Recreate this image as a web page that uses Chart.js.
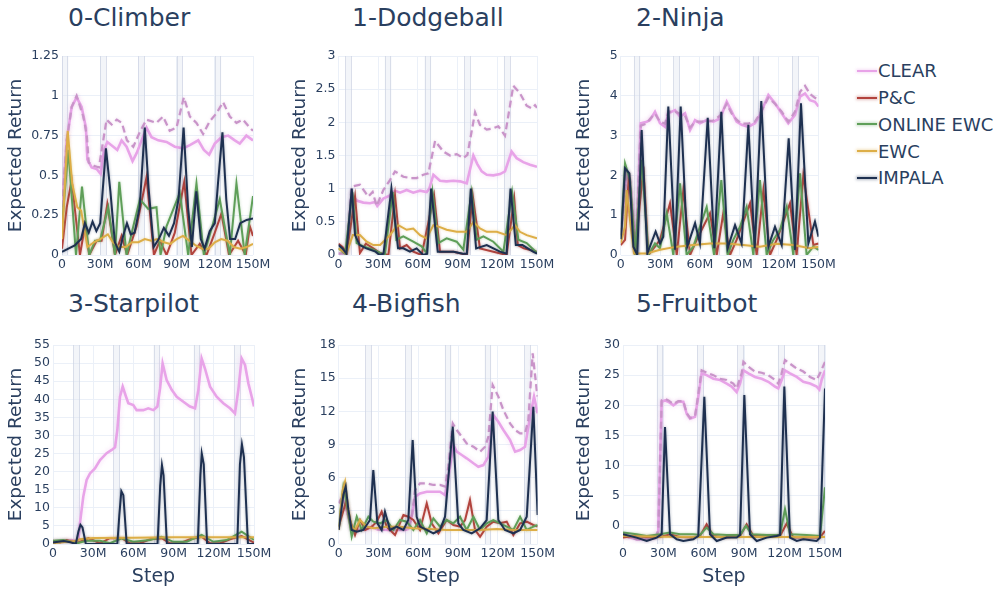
<!DOCTYPE html>
<html>
<head>
<meta charset="utf-8">
<script src="https://cdn.jsdelivr.net/npm/chart.js@4.4.1/dist/chart.umd.min.js"></script>
<style>
  html, body { margin: 0; padding: 0; background: #fff; overflow: hidden; width: 1004px; height: 591px; }
  canvas { position: absolute; }
  .ttl { position: absolute; font-family: 'DejaVu Sans', sans-serif; font-size: 25px; line-height: 25px; color: #2a3f5f; white-space: nowrap; }
  #legend { position: absolute; left: 857px; top: 57.6px; font-family: 'DejaVu Sans', sans-serif; font-size: 18px; color: #2a3f5f; }
  .item { height: 26.75px; display: flex; align-items: center; white-space: nowrap; }
  .sw { width: 20px; height: 2px; margin-right: 1px; }
</style>
</head>
<body>
<div id="legend"></div>
<script>
// ---- axes ----
const stepTicks = [0, 30, 60, 90, 120, 150];          // millions of steps
const stepLabels = ['0', '30M', '60M', '90M', '120M', '150M'];
const cycleStarts = [0, 30, 60, 90, 120];               // each cycle visits all six tasks
const taskSpan = 5;                                      // 5M steps per task visit
const seriesNames = ['CLEAR', 'P&C', 'ONLINE EWC', 'EWC', 'IMPALA'];

const climberTicks = [0, 0.25, 0.5, 0.75, 1, 1.25];
const dodgeballTicks = [0, 0.5, 1, 1.5, 2, 2.5, 3];
const ninjaTicks = [0, 1, 2, 3, 4, 5];
const starpilotTicks = [0, 5, 10, 15, 20, 25, 30, 35, 40, 45, 50, 55];
const bigfishTicks = [0, 3, 6, 9, 12, 15, 18];
const fruitbotTicks = [0, 5, 10, 15, 20, 25, 30];

// ---- 0-Climber: [step (M), expected return] ----
const climberClear = [[0,0.3],[1,0.41],[3.7,0.72],[7.6,0.93],[11.5,0.99],[15.4,0.93],[18.8,0.8],[19.9,0.6],[23.3,0.55],[27.2,0.54],[30.3,0.51],[33,0.66],[35.6,0.71],[40.3,0.68],[43.4,0.66],[46.8,0.72],[50.7,0.68],[55.4,0.59],[58.6,0.64],[62.5,0.72],[66.4,0.8],[70.3,0.74],[75.6,0.72],[82.1,0.71],[88.6,0.68],[95.2,0.67],[100.4,0.69],[107,0.72],[111.4,0.66],[115.6,0.63],[120,0.7],[125.2,0.74],[130.5,0.75],[135.7,0.72],[139.6,0.7],[144.8,0.75],[150,0.72]];
const climberClearTrain = [[0,0.3],[1,0.41],[3.7,0.72],[7.6,0.93],[11.5,1.0],[16.7,0.87],[19.5,0.75],[21,0.58],[25,0.56],[29,0.55],[31,0.65],[35,0.85],[39,0.82],[43,0.85],[47,0.83],[51,0.72],[56,0.68],[61.5,0.78],[66.4,0.85],[74.2,0.83],[79.4,0.87],[84.6,0.78],[89.9,0.8],[95.7,0.99],[100.4,0.87],[105.6,0.83],[110.8,0.76],[116,0.84],[121.3,0.89],[126.5,0.96],[131.8,0.87],[137,0.83],[142.2,0.85],[147.4,0.8],[150,0.78]];
const climberPC = [[0,0.04],[3.7,0.3],[7.6,0.47],[14.1,0],[18,0.18],[21.4,0],[27.2,0.09],[31.1,0.09],[35.6,0.32],[41.6,0],[46.8,0.12],[51.2,0],[58.6,0.18],[66.4,0.49],[72.2,0],[76.9,0.09],[82.1,0],[88.6,0.14],[96,0.46],[101.7,0],[108.2,0.07],[113.5,0],[120,0.14],[125.2,0.26],[131.2,0],[138.3,0.09],[144.3,0],[147.5,0.18],[150,0.12]];
const climberOnlineEwc = [[0,0.18],[5,0.66],[11,0],[15.7,0.43],[21.4,0],[25.9,0.09],[29.8,0.09],[36.3,0.3],[41.6,0],[45,0.46],[50.7,0],[56,0.18],[61.2,0.35],[67.7,0.29],[74.2,0.3],[77.4,0],[82.1,0.18],[92.5,0.39],[99.1,0],[105.6,0.45],[111.4,0],[118.7,0.2],[123.9,0.35],[131.8,0],[137,0.45],[143.5,0],[150,0.37]];
const climberEwc = [[0,0.1],[4.5,0.78],[8,0.45],[12,0.3],[15,0.28],[20,0.05],[25,0.08],[30,0.1],[36,0.13],[40,0.08],[45,0.05],[50,0.05],[55,0.08],[60,0.08],[65,0.1],[70,0.09],[75,0.1],[80,0.08],[85,0.07],[90,0.1],[95,0.12],[100,0.09],[105,0.06],[110,0.04],[115,0.04],[120,0.08],[125,0.1],[130,0.09],[135,0.05],[140,0.04],[145,0.05],[150,0.07]];
const climberImpala = [[0,0.02],[5,0.04],[10,0.06],[15,0.1],[18,0.2],[21,0.14],[24,0.21],[27,0.15],[30,0.2],[34.5,0.67],[38,0.4],[41.5,0.08],[45,0.02],[48,0.12],[51,0.2],[54,0.13],[57,0.14],[61,0.3],[65,0.8],[68,0.42],[72,0.05],[76,0.1],[80,0.17],[84,0.12],[88,0.2],[91.5,0.35],[95.5,0.8],[99,0.3],[102,0.05],[105.5,0.4],[109,0.1],[112,0.04],[116,0.15],[120,0.2],[122.5,0.45],[126,0.77],[129,0.35],[132,0.1],[136,0.1],[140,0.2],[145,0.22],[150,0.23]];

// ---- 1-Dodgeball ----
const dodgeballClear = [[0,0.02],[6.2,0.03],[9.9,0.93],[13.7,0.82],[18.8,0.79],[23.8,0.78],[27.6,0.8],[29.3,0.74],[33.9,0.85],[38.9,0.9],[42.7,0.97],[46.5,0.94],[51.5,0.98],[56.5,0.94],[61.6,0.97],[66.6,0.95],[68.6,1.0],[71.7,1.21],[76.7,1.12],[81.7,1.11],[86.8,1.12],[91.8,1.11],[96.9,1.08],[101.9,1.5],[104.9,1.37],[108.2,1.26],[112,1.21],[117,1.2],[122.1,1.22],[125.8,1.26],[130.8,1.56],[134.6,1.46],[139.6,1.4],[144.7,1.36],[150,1.33]];
const dodgeballClearTrain = [[0,0.02],[6.2,0.03],[9.9,1.03],[16.2,1.06],[20,0.95],[22.5,0.88],[25.8,0.95],[28.8,0.74],[33.9,0.98],[38.9,1.13],[42.7,1.26],[49,1.18],[54,1.16],[59.1,1.16],[64.1,1.21],[67.9,1.23],[73,1.72],[79.2,1.56],[84.3,1.5],[89.3,1.52],[94.3,1.46],[97.4,1.51],[103.2,2.15],[106.9,1.96],[112,1.89],[117,1.91],[120.8,1.94],[125.8,1.8],[132.1,2.55],[137.1,2.44],[142.2,2.25],[146,2.21],[148.5,2.26],[150,2.22]];
const dodgeballPC = [[0,0.17],[3,0.12],[6.2,0.03],[12.5,0.88],[16.2,0.03],[20.7,0.17],[26.3,0.1],[31.4,0.03],[37.7,0],[42.7,0.9],[46.5,0.1],[51.5,0.15],[56.5,0.05],[62.8,0],[72.2,0.9],[76.7,0.05],[87,0.05],[97,0],[101.4,0.9],[106.9,0.1],[117,0.05],[127,0],[132.8,0.85],[135.5,0.15],[140,0.1],[150,0.05]];
const dodgeballOnlineEwc = [[0,0.1],[5,0.02],[10.5,0.95],[13.7,0.18],[18.8,0.13],[26.3,0.08],[31.4,0.03],[35,0],[41,0.95],[43.7,0.23],[49,0.28],[56.5,0.2],[62.8,0.13],[66.6,0.03],[71,0.95],[75.4,0.18],[81.7,0.25],[89.3,0.2],[94.3,0.08],[100.6,0.95],[104.4,0.23],[109.5,0.28],[117,0.2],[124.6,0.05],[131.2,0.95],[135.9,0.23],[142.2,0.18],[150,0.03]];
const dodgeballEwc = [[0,0.1],[6,0.02],[10.8,0.3],[16.2,0.3],[21.3,0.2],[26.3,0.15],[31.4,0.15],[38.9,0.3],[42.7,0.4],[45.2,0.45],[51.5,0.38],[56.5,0.4],[61.6,0.3],[66.6,0.25],[71.7,0.45],[76.7,0.42],[81.7,0.38],[89.3,0.35],[96.9,0.35],[101.9,0.5],[106.9,0.4],[112,0.35],[119.6,0.35],[127.1,0.3],[133.3,0.45],[137.1,0.35],[142.2,0.3],[150,0.25]];
const dodgeballImpala = [[0,0.15],[3,0.1],[6,0.02],[10,1.0],[12.5,0.3],[16,0.15],[21,0.1],[28,0.05],[31,0],[34,0.02],[40,1.0],[45,0.1],[49,0.1],[54,0.05],[59,0.1],[64,0],[67,0.02],[70,1.0],[75,0.05],[87,0.05],[94,0.02],[97,0.02],[100,1.0],[104,0.1],[112,0.15],[122,0.05],[127,0.02],[130,1.0],[134,0.15],[139,0.15],[147,0.05],[150,0.02]];

// ---- 2-Ninja ----
const ninjaClear = [[0,0.5],[4.5,2.09],[7.1,1.88],[11.6,0.1],[15.2,3.31],[19.7,3.35],[22.2,3.39],[26,3.6],[29.8,3.31],[33.6,3.22],[36.1,3.56],[41.2,3.64],[45,3.48],[48.8,3.56],[52.6,3.14],[56.4,3.39],[60.1,3.31],[65.2,3.39],[70.3,3.35],[75.3,3.43],[80.4,3.85],[84.2,3.6],[87.9,3.35],[91.7,3.27],[96.8,3.22],[101.8,3.31],[105.6,3.52],[112,4.02],[117,3.81],[122.1,3.56],[127.1,3.31],[132.2,3.52],[136,3.98],[139.8,4.06],[143.5,3.89],[147.3,3.85],[150,3.73]];
const ninjaClearTrain = [[0,0.5],[4.5,2.05],[7.1,1.85],[11.6,0.1],[15.2,3.25],[19.7,3.3],[22.2,3.42],[26,3.55],[29.8,3.35],[33.6,3.3],[36.1,3.6],[41.2,3.6],[45,3.55],[48.8,3.5],[52.6,3.2],[56.4,3.35],[60.1,3.35],[65.2,3.35],[70.3,3.38],[75.3,3.5],[80.4,3.8],[84.2,3.55],[87.9,3.4],[91.7,3.3],[96.8,3.3],[101.8,3.35],[105.6,3.55],[112,3.95],[117,3.8],[122.1,3.6],[127.1,3.35],[132.2,3.6],[136,4.1],[139.8,4.25],[143.5,4.05],[147.3,3.95],[150,3.9]];
const ninjaPC = [[0,0.25],[3.3,0.38],[6.3,2.05],[10.9,0],[17.2,2.22],[21,0],[26,0.21],[29.8,0.38],[37.4,1.3],[42.5,0],[47.5,1.63],[52.6,0],[57.6,0.38],[67.7,1.05],[72.8,0],[77.8,1.05],[82.9,0],[87.9,0.38],[98.1,1.3],[103.1,0],[108.2,1.63],[113.2,0],[118.3,0.38],[128.4,1.3],[133.4,0],[138.5,2.01],[146.1,0.25],[150,0.29]];
const ninjaOnlineEwc = [[0,0.4],[3.3,2.3],[7.1,1.88],[10.9,0],[15.9,2.39],[21,0],[26,0.29],[29.8,0.17],[34.9,1.05],[39.9,0],[45,1.8],[50,0],[55.1,0.21],[60.1,0.71],[65.2,1.21],[70.8,0],[76.3,1.88],[81.1,0],[85.4,0.38],[90.5,0.71],[95.5,1.21],[100.6,0],[105.6,1.88],[110.7,0],[115.7,0.38],[120.8,0.63],[125.9,1.21],[130.9,0],[136,2.05],[141,0],[146.1,0.21],[150,0.13]];
const ninjaEwc = [[0,0.3],[3.3,0.71],[4.5,1.63],[7.6,0.71],[10.1,0.04],[19.7,0.04],[29.8,0.13],[42.5,0.21],[55.1,0.25],[67.7,0.29],[80.4,0.29],[93,0.25],[105.6,0.21],[118.3,0.28],[130.9,0.25],[143.5,0.17],[150,0.21]];
const ninjaImpala = [[0,0.4],[0.8,0.71],[3.3,2.18],[6.6,2.05],[9.6,0.21],[12.6,0],[15.9,3.14],[20.2,0.04],[26.5,0.59],[29.8,0.29],[32.3,0.46],[36.1,3.73],[41.2,0.13],[45.5,3.73],[50.5,0.21],[56.4,0.8],[60.1,0.29],[66,3.45],[71,0.17],[76.3,3.6],[81.1,0.17],[86.7,0.75],[91.7,0.29],[96.8,3.27],[101.6,0.17],[106.6,3.87],[112,0.21],[117,0.71],[122.1,0.25],[127.4,2.93],[132.2,0.13],[136.7,3.81],[142.3,0.29],[147.3,0.84],[150,0.46]];

// ---- 3-Starpilot ----
const starpilotClear = [[0,0.6],[10.2,0.92],[13.9,1.1],[18.9,0.64],[20.1,5.7],[22.6,13.1],[25.1,17.7],[27.6,19.5],[31.3,20.9],[35.1,23.2],[40,25.1],[43.8,26],[46.3,26.7],[48,31.5],[50,40.7],[52,43.5],[54.5,40.7],[56.2,38.9],[59.9,38.4],[62.4,37],[67.4,37],[71.1,37.5],[74.9,37],[77.9,38],[79.9,43],[81.8,49.9],[84.8,45.3],[88.6,42.6],[92.3,40.7],[97.3,39.3],[102.2,38],[106,37.5],[108.5,42.6],[110.9,51.3],[113.4,48.5],[117.2,43.5],[122.1,40.7],[127.1,38.9],[132.1,37.5],[135.8,36.1],[138.3,42.6],[140.8,51.3],[143.3,49.5],[145.8,44.4],[148.3,40.7],[150,38]];
const starpilotPC = [[0,0.9],[5.2,0.4],[10.2,1.1],[17.7,0.2],[26.4,1.6],[35.1,0.2],[42.5,1.6],[51.2,1.6],[57.5,0.2],[64.9,0.2],[72.4,1.3],[81.1,1.6],[87.3,0.2],[94.8,0.2],[102.2,1.3],[110.9,2],[117.2,0.2],[124.6,0.2],[132.1,1.3],[140.8,2.2],[150,0.4]];
const starpilotOnlineEwc = [[0,0.9],[7.7,1.1],[17.7,0.2],[25.1,0.9],[35.1,0.9],[42.5,0.2],[51.2,1.6],[60,0.6],[72.4,1.1],[81.1,2],[89.8,0.6],[99.8,0.6],[110.9,2.5],[119.7,0.6],[129.6,1.1],[140.8,3.4],[150,1.1]];
const starpilotEwc = [[0,0.2],[10,0.6],[17,0.8],[20,1.3],[30,1.65],[60,1.75],[90,1.85],[120,1.85],[150,1.85]];
const starpilotImpala = [[0,0.4],[8,0.8],[13,0.5],[17,0],[19,3.5],[20.5,5.3],[22,4.6],[24.5,0],[48,0],[49.5,8],[51,14.6],[52.5,13.5],[55,0],[78,0],[80,16],[81.3,21.8],[82.5,19],[85,0],[108,0],[110,19],[111,25],[112.5,22],[115,0],[137.5,0],[139.5,22],[141,27.5],[142.5,24],[145.5,0],[150,0]];

// ---- 4-Bigfish ----
const bigfishClear = [[0,3.7],[2.3,4.13],[4.8,3.68],[7.3,2.47],[9.8,1.27],[16.1,1.27],[21.1,1.33],[24.9,1.57],[28.7,1.33],[36.2,1.27],[43.7,1.27],[50,1.27],[52.5,1.36],[55.1,2.47],[57.6,4.28],[61.3,4.58],[66.4,4.73],[71.4,4.73],[76.4,4.73],[80.2,4.43],[82.7,6.09],[86.5,8.95],[89,8.35],[92.8,8.05],[96.5,7.75],[101.6,7.3],[105.3,6.99],[109.1,7.14],[112.9,7.9],[116.6,11.67],[120.4,11.06],[124.2,10.31],[129.2,9.41],[133,8.35],[136.8,8.5],[140.5,8.8],[144.3,11.52],[147.3,13.33],[150,11.82]];
const bigfishClearTrain = [[0,3.7],[2.3,4.13],[4.8,3.68],[7.3,2.47],[9.8,1.27],[16.1,1.27],[21.1,1.33],[24.9,1.57],[28.7,1.33],[36.2,1.27],[43.7,1.27],[50,1.27],[52.5,1.36],[55.1,2.47],[57.6,4.88],[61.3,5.49],[66.4,5.49],[71.4,5.34],[76.4,5.34],[80.2,5.19],[82.7,6.99],[86,10.91],[89,10.31],[92.8,9.71],[96.5,9.1],[101.6,8.8],[106.6,8.35],[110.4,8.8],[112.9,9.71],[116.1,14.38],[120.4,13.33],[124.2,12.12],[129.2,10.91],[133,10.31],[136.8,10.01],[140.5,10.01],[143,11.21],[146.3,17.24],[149.3,13.93],[150,13.33]];
const bigfishPC = [[0,1.57],[5.5,3.83],[8.5,2.17],[12.3,0.81],[16.1,2.17],[19.9,1.27],[24.9,1.57],[28.7,2.02],[32.4,2.92],[36.2,1.57],[42.5,0.81],[48.8,2.62],[52.5,2.47],[56.3,2.17],[61.3,1.27],[66.4,3.68],[70.1,1.87],[75.2,0.96],[81.4,2.17],[86.5,1.72],[91.5,1.57],[95.3,2.17],[99,3.98],[102.8,1.27],[106.6,0.66],[111.6,1.57],[116.6,2.02],[121.7,1.87],[126.7,2.02],[131.7,0.81],[136.8,1.87],[141.8,2.02],[146.8,1.72],[150,1.57]];
const bigfishOnlineEwc = [[0,1.57],[3.5,5.19],[6,3.68],[9.8,0.66],[13.6,2.47],[17.3,1.27],[22.4,2.47],[26.1,2.02],[31.2,1.87],[36.2,2.17],[41.2,1.27],[46.3,2.17],[51.3,2.02],[56.3,1.27],[61.3,2.17],[66.4,0.96],[71.4,2.32],[76.4,1.57],[81.4,2.17],[86.5,1.87],[91.5,2.47],[96.5,1.27],[101.6,2.47],[106.6,1.27],[111.6,1.87],[116.6,2.17],[121.7,1.87],[126.7,1.57],[131.7,1.27],[136.8,2.47],[141.8,1.27],[146.8,1.57],[150,1.72]];
const bigfishEwc = [[0,1.27],[3,4.88],[4.8,5.64],[7.3,3.08],[9.8,1.57],[12.3,1.27],[16.1,2.17],[21.1,1.57],[26.1,1.42],[36.2,1.57],[46.3,1.57],[56.3,1.42],[68.9,1.36],[81.4,1.27],[94,1.27],[106.6,1.27],[119.2,1.36],[131.7,1.27],[150,1.27]];
const bigfishImpala = [[0,1.27],[3.5,4.43],[5.3,5.19],[7.3,3.08],[9.8,1.27],[13.6,1.12],[18.6,1.27],[23.6,2.17],[26.1,6.69],[29.2,1.87],[32.4,1.27],[34.9,2.92],[38.7,1.27],[43.7,1.57],[48.8,1.27],[52.5,2.17],[55.8,9.41],[58.8,2.47],[61.3,1.57],[66.4,1.27],[71.4,0.96],[76.4,1.27],[80.2,2.47],[86,10.61],[90.2,1.87],[94,1.27],[100.3,0.96],[106.6,1.42],[111.6,2.17],[116.1,11.97],[120.4,2.17],[125.4,1.27],[131.7,0.96],[136.8,1.27],[141.8,2.47],[146.8,12.42],[150,2.62]];

// ---- 5-Fruitbot ----
const fruitbotClear = [[0,-1.6],[5.2,-1.94],[10.1,-2.22],[17.6,-2.22],[23.8,-2.06],[26.2,-0.83],[27.5,10.3],[28.7,20.6],[31.2,20.8],[33.7,20.6],[37.4,20],[41.1,20.6],[44.8,20.6],[47.3,18.6],[49.8,17.8],[53.5,18.1],[55.9,21.4],[58.4,25.3],[62.1,25],[67.1,24.4],[72,24.2],[77,23.6],[80.7,23.1],[84.4,22.2],[86.9,23.6],[89.4,25.8],[93.1,25.3],[98,24.7],[103,24.4],[107.9,23.9],[112.9,23.1],[115.3,22.8],[117.8,24.2],[120.3,25.8],[124,25.3],[129,24.7],[133.9,23.9],[138.9,23.6],[143.8,23.1],[145.8,22.6],[147.5,24.2],[150,25.8]];
const fruitbotClearTrain = [[0,-1.6],[5.2,-1.94],[10.1,-2.22],[17.6,-2.22],[23.8,-2.06],[26.2,-0.83],[27.5,10.3],[28.7,20.8],[31.2,21.1],[33.7,20.8],[37.4,20.2],[41.1,20.7],[44.8,20.7],[47.3,18.7],[49.8,17.9],[53.5,18.2],[55.9,21.8],[58.4,25.8],[62.1,25.4],[67.1,25],[72,24.4],[77,24.2],[81.9,23.6],[84.4,22.8],[88.1,25.3],[89.4,27.2],[93.1,26.4],[98,25.6],[103,25.4],[107.9,25],[112.9,24.2],[115.3,23.6],[117.8,25.3],[120.3,27.5],[124,26.9],[129,26.1],[133.9,25.6],[138.9,24.7],[143.8,24.2],[146.3,25.3],[150,27.2]];
const fruitbotPC = [[0,-1.94],[7.7,-1.67],[17.6,-1.83],[27.5,-1.83],[34.9,-1.39],[42.3,-1.83],[52.2,-1.94],[57.2,-1.67],[62.1,0.28],[67.1,-1.67],[77,-1.94],[86.9,-1.67],[91.8,0.28],[96.8,-1.67],[106.7,-1.67],[116.6,-1.67],[121.5,0.39],[126.5,-1.94],[136.4,-1.94],[146.3,-1.94],[150,-0.83]];
const fruitbotOnlineEwc = [[0,-1.11],[10.1,-1.39],[17.6,-1.67],[27.5,-1.39],[34.9,-1.11],[42.3,-1.39],[52.2,-1.39],[57.2,-1.5],[62.1,-0.28],[67.1,-1.39],[77,-1.5],[86.9,-1.5],[91.3,0],[95.5,-1.39],[106.7,-1.5],[116.6,-1.5],[120.3,2.78],[124,-1.39],[136.4,-1.5],[146.3,-1.67],[150,6.4]];
const fruitbotEwc = [[0,-1.67],[30,-1.8],[60,-1.83],[90,-1.83],[120,-1.83],[150,-1.83]];
const fruitbotImpala = [[0,-1.39],[10.1,-1.94],[17.6,-2.5],[25,-1.94],[28.7,-1.39],[31.2,16.4],[34.9,-1.39],[39.9,-2.22],[44.8,-2.5],[52.2,-2.22],[55.9,-1.67],[60.4,21.4],[64.6,-1.39],[69.6,-2.5],[77,-1.94],[84.4,-1.94],[86.9,-1.5],[90.1,21.7],[94.3,-1.39],[99.3,-2.5],[106.7,-1.94],[114.1,-1.67],[116.6,-1.5],[119.8,23.1],[124,-1.94],[129,-2.5],[133.9,-2.22],[143.8,-2.5],[146.3,-1.94],[150,22.8]];

// ---- styling ----
const INK = '#2a3f5f';
const GRID = '#ebf0f8';
const FONT = "'DejaVu Sans', sans-serif";
const COLORS = {
  clear: '#e8a3e8',
  clearTrain: '#c994c9',
  pc: '#b2433d',
  oewc: '#5f9f59',
  ewc: '#ddae47',
  impala: '#1e3050'
};
const legendColors = [COLORS.clear, COLORS.pc, COLORS.oewc, COLORS.ewc, COLORS.impala];

// panel layout (page pixels): x0/y0 = canvas origin, left/right/top/bottom = plot area
const panels = [
  { title: '0-Climber',   task: 0, x0: 0,   y0: 40,  left: 62,    right: 253,   top: 56,  bottom: 255, titleTop: 5,   min: 0,  max: 1.25, ticks: climberTicks,
    s: { clear: climberClear, clearTrain: climberClearTrain, pc: climberPC, oewc: climberOnlineEwc, ewc: climberEwc, impala: climberImpala } },
  { title: '1-Dodgeball', task: 1, x0: 284, y0: 40,  left: 338.5, right: 537,   top: 56,  bottom: 255, titleTop: 5,   min: 0,  max: 3,    ticks: dodgeballTicks,
    s: { clear: dodgeballClear, clearTrain: dodgeballClearTrain, pc: dodgeballPC, oewc: dodgeballOnlineEwc, ewc: dodgeballEwc, impala: dodgeballImpala } },
  { title: '2-Ninja',     task: 2, x0: 568, y0: 40,  left: 620.7, right: 818.5, top: 56,  bottom: 255, titleTop: 5,   min: 0,  max: 5,    ticks: ninjaTicks,
    s: { clear: ninjaClear, clearTrain: ninjaClearTrain, pc: ninjaPC, oewc: ninjaOnlineEwc, ewc: ninjaEwc, impala: ninjaImpala } },
  { title: '3-Starpilot', task: 3, x0: 0,   y0: 330, left: 53,    right: 254,   top: 345, bottom: 544, titleTop: 291, min: 0,  max: 55,   ticks: starpilotTicks, stepTitle: true,
    s: { clear: starpilotClear, pc: starpilotPC, oewc: starpilotOnlineEwc, ewc: starpilotEwc, impala: starpilotImpala } },
  { title: '4-Bigfish',   task: 4, x0: 284, y0: 330, left: 338.7, right: 537.6, top: 345, bottom: 544, titleTop: 291, min: 0,  max: 18,   ticks: bigfishTicks, stepTitle: true,
    s: { clear: bigfishClear, clearTrain: bigfishClearTrain, pc: bigfishPC, oewc: bigfishOnlineEwc, ewc: bigfishEwc, impala: bigfishImpala } },
  { title: '5-Fruitbot',  task: 5, x0: 568, y0: 330, left: 623,   right: 825,   top: 345, bottom: 544, titleTop: 291, min: -3, max: 30,   ticks: fruitbotTicks, stepTitle: true,
    s: { clear: fruitbotClear, clearTrain: fruitbotClearTrain, pc: fruitbotPC, oewc: fruitbotOnlineEwc, ewc: fruitbotEwc, impala: fruitbotImpala } }
];

// shaded windows where the panel's task is being trained
const taskBands = {
  id: 'taskBands',
  beforeDatasetsDraw(chart, args, opts) {
    const { ctx, chartArea: { top, bottom }, scales: { x } } = chart;
    ctx.save();
    cycleStarts.forEach(c => {
      const a = x.getPixelForValue(c + opts.task * taskSpan);
      const b = x.getPixelForValue(c + (opts.task + 1) * taskSpan);
      ctx.fillStyle = 'rgba(226,230,240,0.42)';
      ctx.fillRect(a, top, b - a, bottom - top);
      ctx.strokeStyle = 'rgba(205,211,226,0.7)';
      ctx.lineWidth = 1;
      ctx.beginPath();
      ctx.moveTo(Math.round(a) + 0.5, top); ctx.lineTo(Math.round(a) + 0.5, bottom);
      ctx.moveTo(Math.round(b) - 0.5, top); ctx.lineTo(Math.round(b) - 0.5, bottom);
      ctx.stroke();
    });
    ctx.restore();
  }
};

// soft halo under each curve (run-to-run spread)
const halo = {
  id: 'halo',
  beforeDatasetDraw(chart, args) {
    const ds = chart.data.datasets[args.index];
    chart.ctx.save();
    chart.ctx.shadowColor = ds.haloColor || 'transparent';
    chart.ctx.shadowBlur = ds.haloBlur || 0;
  },
  afterDatasetDraw(chart) {
    chart.ctx.restore();
  }
};

function curve(pairs, color, extra) {
  return Object.assign({
    data: pairs.map(([x, y]) => ({ x, y })),
    borderColor: color,
    borderWidth: 2,
    pointRadius: 0,
    tension: 0,
    fill: false,
    haloColor: color + '66',
    haloBlur: 3
  }, extra || {});
}

function buildPanel(p) {
  const padR = 24;
  const axisH = p.stepTitle ? 46 : 22;
  const W = Math.ceil(p.right - p.x0 + padR);
  const H = Math.round(p.bottom - p.y0 + axisH);
  const cv = document.createElement('canvas');
  cv.width = W; cv.height = H;
  cv.style.left = p.x0 + 'px'; cv.style.top = p.y0 + 'px';
  cv.style.width = W + 'px'; cv.style.height = H + 'px';
  document.body.appendChild(cv);

  const ds = [curve(p.s.impala, COLORS.impala),
              curve(p.s.ewc, COLORS.ewc),
              curve(p.s.oewc, COLORS.oewc),
              curve(p.s.pc, COLORS.pc)];
  if (p.s.clearTrain) ds.push(curve(p.s.clearTrain, COLORS.clearTrain, { borderDash: [7, 4], borderWidth: 2.2 }));
  ds.push(curve(p.s.clear, COLORS.clear, { borderWidth: 2.6, haloBlur: 5 }));

  new Chart(cv, {
    type: 'line',
    data: { datasets: ds },
    plugins: [taskBands, halo],
    options: {
      responsive: false,
      animation: false,
      devicePixelRatio: 1,
      events: [],
      layout: { padding: { left: 0, right: W - (p.right - p.x0), top: p.top - p.y0, bottom: 0 } },
      plugins: { legend: { display: false }, tooltip: { enabled: false }, taskBands: { task: p.task } },
      scales: {
        x: {
          type: 'linear', min: 0, max: 150,
          afterBuildTicks: s => { s.ticks = stepTicks.map(v => ({ value: v })); },
          afterFit: s => { s.height = axisH; },
          grid: { color: GRID, drawTicks: false },
          border: { display: false },
          ticks: {
            autoSkip: false, maxRotation: 0, padding: 2, color: INK,
            font: { family: FONT, size: 12.5 },
            callback: v => stepLabels[stepTicks.indexOf(v)]
          },
          title: {
            display: !!p.stepTitle, text: 'Step', color: INK,
            font: { family: FONT, size: 19 }, padding: { top: 0, bottom: 1.6 }
          }
        },
        y: {
          min: p.min, max: p.max,
          afterBuildTicks: s => { s.ticks = p.ticks.map(v => ({ value: v })); },
          afterFit: s => { s.width = p.left - p.x0; },
          grid: { color: GRID, drawTicks: false },
          border: { display: false },
          ticks: {
            padding: 3, color: INK,
            font: { family: FONT, size: 12.5 },
            callback: v => String(+v.toFixed(2))
          },
          title: {
            display: true, text: 'Expected Return', color: INK,
            font: { family: FONT, size: 18.5 }, padding: { top: 4.8, bottom: 0 }
          }
        }
      }
    }
  });

  const t = document.createElement('div');
  t.className = 'ttl';
  t.textContent = p.title;
  t.style.left = (p.x0 + 68) + 'px';
  t.style.top = p.titleTop + 'px';
  document.body.appendChild(t);
}

panels.forEach(buildPanel);

// legend
const lg = document.getElementById('legend');
seriesNames.forEach((name, i) => {
  const row = document.createElement('div');
  row.className = 'item';
  const sw = document.createElement('span');
  sw.className = 'sw';
  sw.style.background = legendColors[i];
  sw.style.boxShadow = '0 0 3px 1px ' + legendColors[i] + '55';
  const tx = document.createElement('span');
  tx.textContent = name;
  row.appendChild(sw); row.appendChild(tx);
  lg.appendChild(row);
});
</script>
</body>
</html>
